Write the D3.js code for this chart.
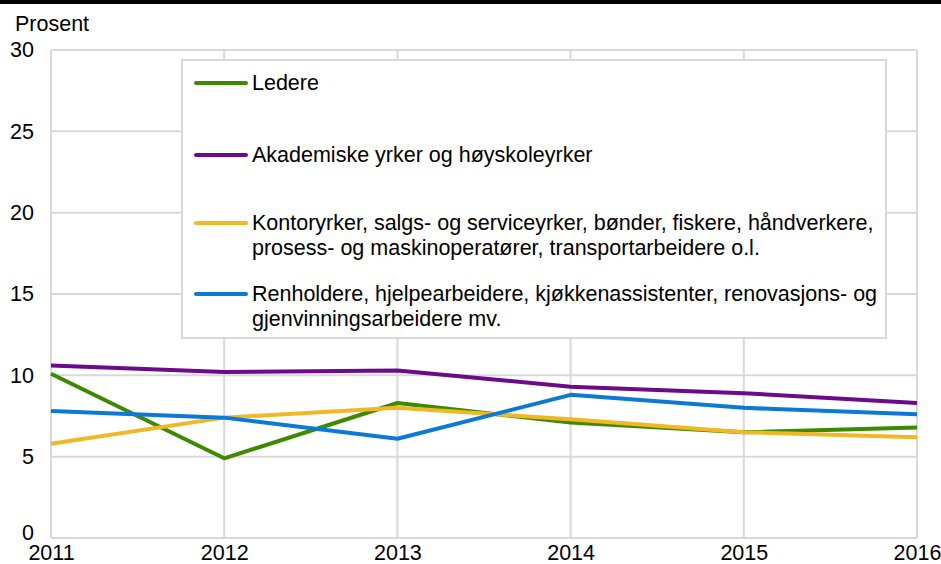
<!DOCTYPE html>
<html>
<head>
<meta charset="utf-8">
<script src="https://cdn.jsdelivr.net/npm/d3@7"></script>
<style>
  body { margin: 0; background: #fff; }
  text { font-family: "Liberation Sans", Arial, sans-serif; fill: #000; }
</style>
</head>
<body>
<div id="chart"></div>
<script>
//data
const years = [2011, 2012, 2013, 2014, 2015, 2016];
const ledere = [10.1, 4.9, 8.3, 7.1, 6.5, 6.8];
const akademiske = [10.6, 10.2, 10.3, 9.3, 8.9, 8.3];
const kontor = [5.8, 7.4, 8.0, 7.3, 6.5, 6.2];
const renhold = [7.8, 7.4, 6.1, 8.8, 8.0, 7.6];
const yTicks = [0, 5, 10, 15, 20, 25, 30];

const series = [
  { name: ["Ledere"], values: ledere, color: "#3d8a00" },
  { name: ["Akademiske yrker og høyskoleyrker"], values: akademiske, color: "#6b0a8b" },
  { name: ["Kontoryrker, salgs- og serviceyrker, bønder, fiskere, håndverkere,", "prosess- og maskinoperatører, transportarbeidere o.l."], values: kontor, color: "#f0b824" },
  { name: ["Renholdere, hjelpearbeidere, kjøkkenassistenter, renovasjons- og", "gjenvinningsarbeidere mv."], values: renhold, color: "#0b79d6" },
];

//set parameters
const W = 941, H = 564;
const margin = { top: 50, right: 24, bottom: 26, left: 51 };
const width = W - margin.left - margin.right;
const height = H - margin.top - margin.bottom;
const fs = 21.5;

const svg = d3.select("#chart").append("svg").attr("width", W).attr("height", H);

//top black rule
svg.append("rect").attr("x", 0).attr("y", 0).attr("width", W).attr("height", 4).attr("fill", "#000");

svg.append("text").attr("x", 15).attr("y", 31).attr("font-size", fs).text("Prosent");

const g = svg.append("g").attr("transform", `translate(${margin.left}, ${margin.top})`);

const x = d3.scaleLinear().domain([2011, 2016]).range([0, width]);
const y = d3.scaleLinear().domain([0, 30]).range([height, 0]);

//grid
const gridColor = "#d9d9d9";
g.append("g")
  .selectAll("line")
  .data(yTicks)
  .join("line")
  .attr("x1", 0).attr("x2", width)
  .attr("y1", (d) => y(d)).attr("y2", (d) => y(d))
  .attr("stroke", gridColor).attr("stroke-width", 2);
g.append("g")
  .selectAll("line")
  .data(years)
  .join("line")
  .attr("x1", (d) => x(d)).attr("x2", (d) => x(d))
  .attr("y1", 0).attr("y2", height)
  .attr("stroke", gridColor).attr("stroke-width", 2);

//axes
const yAxis = g.append("g")
  .call(d3.axisLeft(y).tickValues(yTicks).tickSize(0).tickPadding(17));
yAxis.select(".domain").remove();
yAxis.selectAll("text").attr("font-size", fs).style("font-family", "'Liberation Sans', Arial, sans-serif").attr("fill", "#000");
//lift the "0" label a touch so it clears the first year label
yAxis.selectAll(".tick").filter((d) => d === 0).select("text").attr("dy", "0.05em");

const xAxis = g.append("g")
  .attr("transform", `translate(0, ${height})`)
  .call(d3.axisBottom(x).tickValues(years).tickFormat(d3.format("d")).tickSize(0).tickPadding(7));
xAxis.select(".domain").remove();
xAxis.selectAll("text").attr("font-size", fs).style("font-family", "'Liberation Sans', Arial, sans-serif").attr("fill", "#000");

//legend box
const lg = g.append("g");
lg.append("rect")
  .attr("x", 131).attr("y", 10).attr("width", 704).attr("height", 278)
  .attr("fill", "#fff").attr("stroke", gridColor).attr("stroke-width", 2);

//lines
const line = d3.line().x((d, i) => x(years[i])).y((d) => y(d));
g.append("g")
  .selectAll("path")
  .data(series)
  .join("path")
  .attr("d", (d) => line(d.values))
  .attr("fill", "none")
  .attr("stroke", (d) => d.color)
  .attr("stroke-width", 4)
  .attr("stroke-linejoin", "round");

//legend entries
const legendY = [33, 105, 173, 244];
series.forEach((s, i) => {
  const ly = legendY[i];
  lg.append("line")
    .attr("x1", 145).attr("x2", 195)
    .attr("y1", ly).attr("y2", ly)
    .attr("stroke", s.color).attr("stroke-width", 4).attr("stroke-linecap", "round");
  s.name.forEach((t, j) => {
    lg.append("text")
      .attr("x", 201).attr("y", ly + 7 + j * 25)
      .attr("font-size", fs)
      .text(t);
  });
});
</script>
</body>
</html>
